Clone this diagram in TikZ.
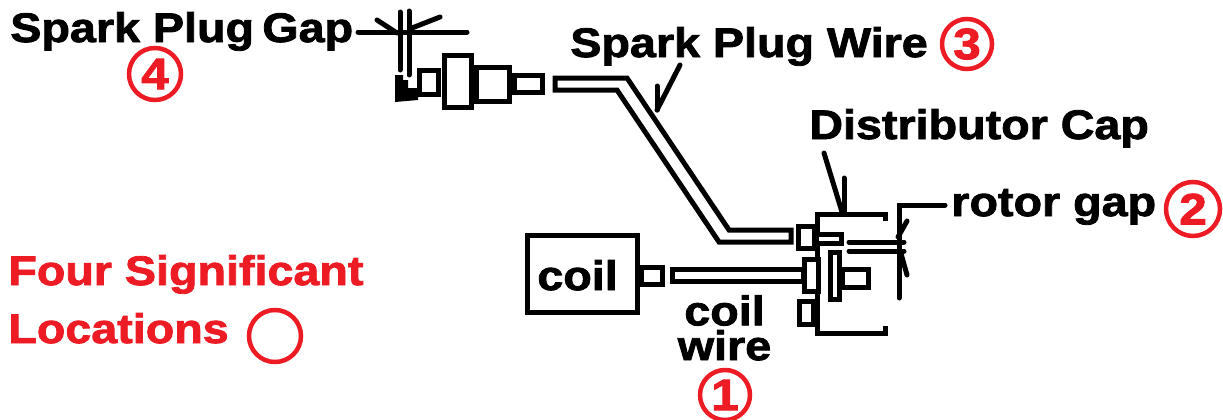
\documentclass[tikz,border=0pt]{standalone}
\usepackage{xcolor}
\usepackage{fontspec}
\setmainfont[BoldFeatures={FakeStretch=1.13,FakeBold=2}]{Liberation Sans}
\usepackage{tikz}
\usetikzlibrary{positioning}
\definecolor{markred}{RGB}{237,28,36}
\def\px{0.02cm}
\tikzset{
  part/.style={draw, line width=5*\px, inner sep=0pt, outer sep=0pt, fill=white},
  wireline/.style={line width=5*\px, line join=miter},
  leader/.style={line width=5*\px, line cap=round},
  lbl/.style={font=\fontsize{23.5}{19.8}\selectfont\bfseries, inner sep=0pt, anchor=base west},
  redlbl/.style={lbl, text=markred},
  mark/.style={draw=markred, line width=4.5*\px, circle, inner sep=0pt, minimum size=2*#1*\px, text=markred,
    font=\fontsize{25}{25}\selectfont\bfseries},
}
\begin{document}
\begin{tikzpicture}[x=0.02cm,y=-0.02cm]
\useasboundingbox (0,0) rectangle (1223,419);
% spark plug
\foreach \name/\cx/\cy/\w/\h in {plugtip/429/82.5/19/24, plugbody/458/81.5/27/52, plugneck/493/84.5/33/34, plugend/528.5/84/28/17}{
  \node[part, minimum width=\w*\px, minimum height=\h*\px] (\name) at (\cx,\cy) {};
}
\fill (395,75) -- (403,75) -- (403,80) -- (408,80) -- (408,88) -- (418,88) -- (418,100) -- (395,102) -- cycle;
\draw[leader] (358,32) -- (467,32);
\draw[leader] (400,12) -- (400,70);
\draw[leader] (409,11) -- (409,75);
\draw[leader] (377,20) -- (397,33);
\draw[leader] (412,28) -- (440,17);
% spark plug wire
\draw[wireline] (555,78) -- (627,78) -- (729,230) -- (791,230) -- (791,242) -- (719,242) -- (617,90) -- (555,90) -- cycle;
\draw[leader] (680,65) -- (657,110);
\draw[leader] (657,86) -- (657,110);
% coil
\node[part, minimum width=110*\px, minimum height=77*\px] (coilbox) at (582.5,274) {};
\node[part, minimum width=21*\px, minimum height=17*\px] (coilpin) at (651.5,275.5) {};
\draw[wireline] (672,269) rectangle (803,281);
% distributor
\draw[wireline] (885,221) -- (885,214) -- (817,214) -- (817,333) -- (885,333) -- (885,326);
\foreach \name/\cx/\cy/\w/\h in {capupper/806/237/16/22, capmid/811/275/14/32, caplow/806/312.5/14/23, capstub/829/238.5/25/9, rotorbar/834.5/276/9/47, rotorhub/855/278/26/18}{
  \node[part, minimum width=\w*\px, minimum height=\h*\px] (\name) at (\cx,\cy) {};
}
\draw[leader] (824,153) -- (842,212);
\draw[leader] (844,178) -- (844,212);
% rotor gap
\draw[leader] (849,242) -- (904,242);
\draw[leader] (849,251) -- (904,251);
\draw[leader] (945,205) -- (899,205) -- (899,298);
\draw[leader] (907,221) -- (898,237);
\draw[leader] (900,250) -- (907,275);
% labels
\node[lbl] (lblplug) at (10,42) {Spark Plug};
\node[lbl] (lblgap) at (262,42) {Gap};
\node[lbl] (lblwire) at (570,57) {Spark Plug Wire};
\node[lbl] (lblcap) at (809,139) {Distributor Cap};
\node[lbl] (lblrotor) at (951,216) {rotor gap};
\node[lbl] (lblcoil) at (537,290) {coil};
\node[lbl, align=center, anchor=north] (lblcoilw) at (724.5,295) {coil\\wire};
\node[redlbl] (lblfour) at (8,285) {Four Significant};
\node[redlbl] (lblloc) at (8,343) {Locations};
% numbers
\foreach \name/\cx/\cy/\r/\num in {markone/725/395/25/1, marktwo/1193/209/27/2, markthree/967/44/25/3, markfour/155/74/26/4, markblank/275/336/26/}{
  \node[mark=\r] (\name) at (\cx,\cy) {\num};
}
\end{tikzpicture}
\end{document}
